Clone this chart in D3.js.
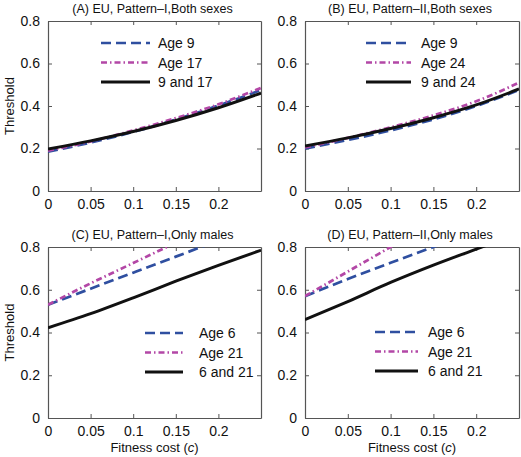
<!DOCTYPE html>
<html>
<head>
<meta charset="utf-8">
<script src="https://cdn.jsdelivr.net/npm/d3@7"></script>
<style>
  html, body { margin: 0; padding: 0; background: #fff; }
  text { font-family: "Liberation Sans", Arial, Helvetica, sans-serif; fill: #111; }
</style>
</head>
<body>
<svg id="chart" width="521" height="457"></svg>
<script>
// ---- data ----
const costTicks = [0, 0.05, 0.1, 0.15, 0.2];
const costTickLabels = ["0", "0.05", "0.1", "0.15", "0.2"];
const thresholdTicks = [0, 0.2, 0.4, 0.6, 0.8];
const thresholdTickLabels = ["0", "0.2", "0.4", "0.6", "0.8"];

const costGrid = [0, 0.05, 0.1, 0.15, 0.2, 0.25];

// Panel A
const titleA = "(A) EU, Pattern\u2013I,Both sexes";
const namesA = ["Age 9", "Age 17", "9 and 17"];
const aBlue    = [0.185, 0.228, 0.278, 0.336, 0.402, 0.475];
const aMagenta = [0.190, 0.233, 0.285, 0.343, 0.408, 0.485];
const aBlack   = [0.197, 0.236, 0.280, 0.332, 0.392, 0.461];

// Panel B
const titleB = "(B) EU, Pattern\u2013II,Both sexes";
const namesB = ["Age 9", "Age 24", "9 and 24"];
const bBlue    = [0.200, 0.240, 0.285, 0.337, 0.400, 0.475];
const bMagenta = [0.205, 0.250, 0.300, 0.356, 0.422, 0.510];
const bBlack   = [0.212, 0.250, 0.294, 0.345, 0.405, 0.480];

// Panel C
const titleC = "(C) EU, Pattern\u2013I,Only males";
const namesC = ["Age 6", "Age 21", "6 and 21"];
const cBlue    = [0.530, 0.605, 0.680, 0.755, 0.830];
const cMagenta = [0.530, 0.630, 0.725, 0.820];
const cBlack   = [0.422, 0.488, 0.562, 0.640, 0.714, 0.785];

// Panel D
const titleD = "(D) EU, Pattern\u2013II,Only males";
const namesD = ["Age 6", "Age 21", "6 and 21"];
const dBlue    = [0.570, 0.650, 0.726, 0.800, 0.875];
const dMagenta = [0.570, 0.685, 0.800, 0.915];
const dBlack   = [0.460, 0.545, 0.634, 0.715, 0.790, 0.865];

const xLabel = "Fitness cost (";
const xLabelVar = "c";
const yLabel = "Threshold";

// ---- layout / style ----
const styles = [
  { color: "#2f4fa0", dash: "10,5" },
  { color: "#b347a6", dash: "6,3,1.5,3" },
  { color: "#111111", dash: null }
];

const panels = [
  { title: titleA, names: namesA, series: [aBlue, aMagenta, aBlack], box: [48, 261, 21, 191], legend: [101, 150, 158, 43], ylab: true, xlab: false },
  { title: titleB, names: namesB, series: [bBlue, bMagenta, bBlack], box: [305, 519, 21, 191], legend: [366, 411, 421, 43], ylab: false, xlab: false },
  { title: titleC, names: namesC, series: [cBlue, cMagenta, cBlack], box: [48, 261, 247, 418], legend: [145, 183, 199, 333], ylab: true, xlab: true },
  { title: titleD, names: namesD, series: [dBlue, dMagenta, dBlack], box: [305, 519, 247, 418], legend: [375, 418, 428, 332], ylab: false, xlab: true }
];

const svg = d3.select("#chart");

panels.forEach((p, pi) => {
  const [x0, x1, y0, y1] = p.box;
  const x = d3.scaleLinear().domain([0, 0.25]).range([x0, x1]);
  const y = d3.scaleLinear().domain([0, 0.8]).range([y1, y0]);
  const g = svg.append("g");

  const clipId = "clip" + pi;
  svg.append("defs").append("clipPath").attr("id", clipId)
    .append("rect").attr("x", x0).attr("y", y0).attr("width", x1 - x0).attr("height", y1 - y0);

  // axes (MATLAB box style, inward ticks)
  const axColor = "#555";
  const bottom = g.append("g").attr("transform", `translate(0,${y1})`)
    .call(d3.axisBottom(x).tickValues(costTicks).tickFormat((d, i) => costTickLabels[i]).tickSizeInner(-4).tickSizeOuter(0).tickPadding(8));
  const top = g.append("g").attr("transform", `translate(0,${y0})`)
    .call(d3.axisTop(x).tickValues(costTicks).tickFormat("").tickSizeInner(-4).tickSizeOuter(0));
  const left = g.append("g").attr("transform", `translate(${x0},0)`)
    .call(d3.axisLeft(y).tickValues(thresholdTicks).tickFormat((d, i) => thresholdTickLabels[i]).tickSizeInner(-4).tickSizeOuter(0).tickPadding(8));
  const right = g.append("g").attr("transform", `translate(${x1},0)`)
    .call(d3.axisRight(y).tickValues(thresholdTicks).tickFormat("").tickSizeInner(-4).tickSizeOuter(0));
  [bottom, top, left, right].forEach(a => {
    a.select(".domain").attr("stroke", axColor).attr("stroke-width", 1.2);
    a.selectAll(".tick line").attr("stroke", axColor).attr("stroke-width", 1);
    a.selectAll("text").attr("font-size", 14).attr("font-family", "Liberation Sans, Arial, sans-serif").attr("fill", "#111");
  });
  bottom.selectAll("text").attr("dy", "0.71em");

  // lines
  const line = d3.line()
    .x((d, i) => x(costGrid[i]))
    .y(d => y(d))
    .curve(d3.curveMonotoneX);
  const lg = g.append("g").attr("clip-path", `url(#${clipId})`);
  p.series.forEach((s, si) => {
    lg.append("path")
      .datum(s)
      .attr("d", line)
      .attr("fill", "none")
      .attr("stroke", styles[si].color)
      .attr("stroke-width", si === 2 ? 3 : 2.7)
      .attr("stroke-dasharray", styles[si].dash);
  });

  // legend
  const [lx0, lx1, tx, ly] = p.legend;
  p.names.forEach((n, i) => {
    const yy = ly + i * 19.5;
    g.append("line").attr("x1", lx0).attr("x2", lx1).attr("y1", yy).attr("y2", yy)
      .attr("stroke", styles[i].color).attr("stroke-width", i === 2 ? 3 : 2.7)
      .attr("stroke-dasharray", styles[i].dash);
    g.append("text").attr("x", tx).attr("y", yy).attr("dy", "0.36em")
      .attr("font-size", 14).text(n);
  });

  // title
  g.append("text").attr("x", (x0 + x1) / 2 - 2).attr("y", y0 - 8)
    .attr("text-anchor", "middle").attr("font-size", 12.5).text(p.title);

  if (p.ylab) {
    g.append("text").attr("transform", `translate(14,${(y0 + y1) / 2}) rotate(-90)`)
      .attr("text-anchor", "middle").attr("font-size", 13).text(yLabel);
  }
  if (p.xlab) {
    const t = g.append("text").attr("x", (x0 + x1) / 2).attr("y", 452)
      .attr("text-anchor", "middle").attr("font-size", 13);
    t.append("tspan").text(xLabel);
    t.append("tspan").attr("font-style", "italic").text(xLabelVar);
    t.append("tspan").text(")");
  }
});
</script>
</body>
</html>
